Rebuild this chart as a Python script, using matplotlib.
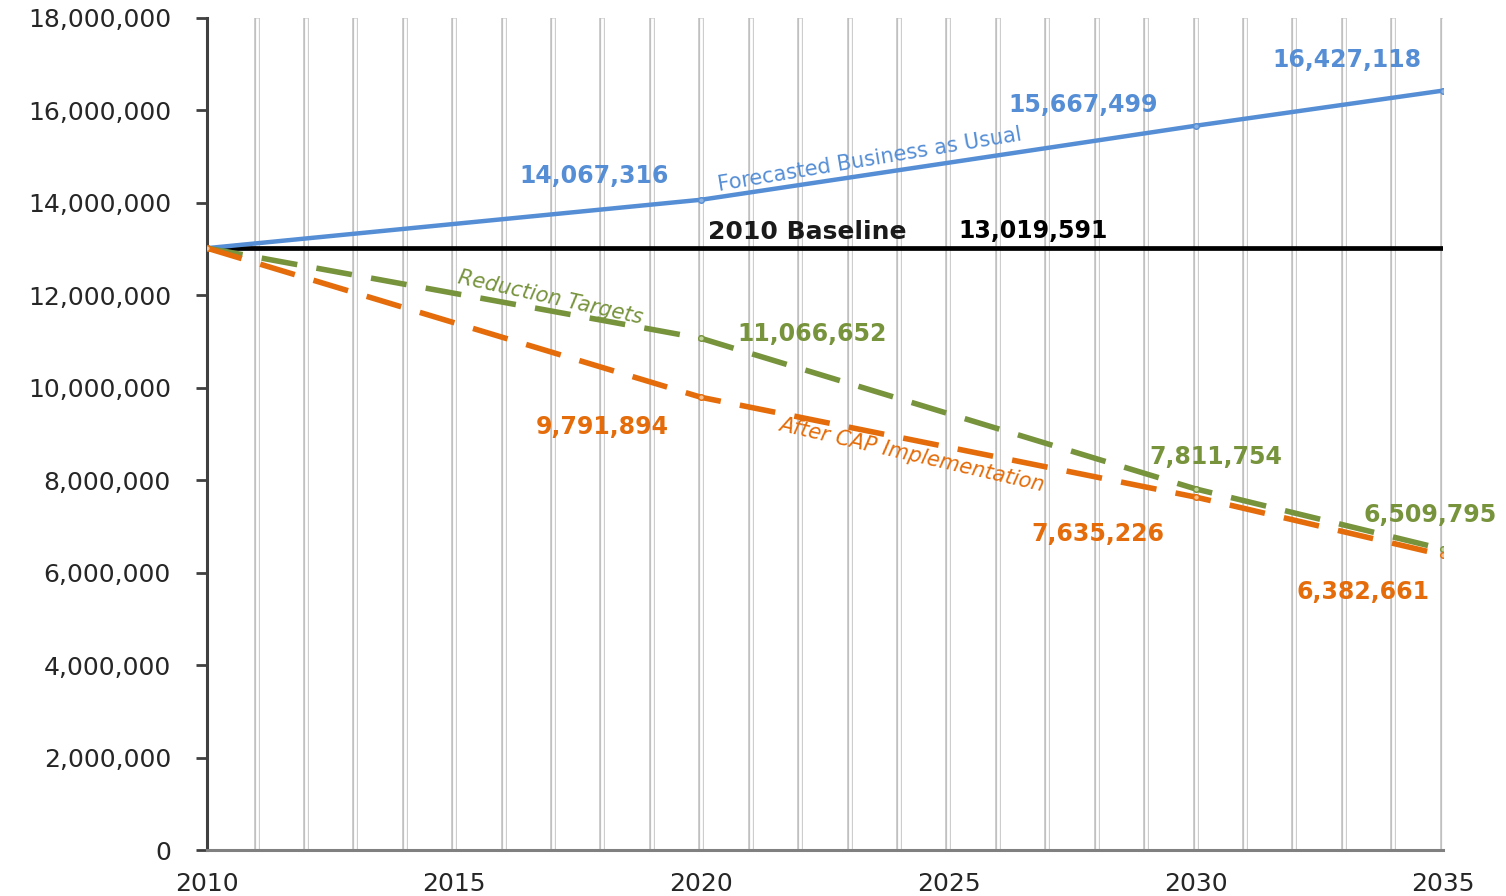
import numpy as np
import matplotlib.pyplot as plt
from matplotlib.ticker import FuncFormatter

# Data
years = [2010, 2020, 2030, 2035]
business_as_usual = [13019591, 14067316, 15667499, 16427118]
reduction_targets = [13019591, 11066652, 7811754, 6509795]
after_cap = [13019591, 9791894, 7635226, 6382661]
baseline_2010 = 13019591

blue = '#558ed5'
green = '#77933c'
orange = '#e46c0a'

fig = plt.figure(figsize=(15.06, 8.96), dpi=100)
ax = fig.add_axes([0.1375, 0.0513, 0.8205, 0.9287])

# year gridlines drawn as double lines
grid_years = np.arange(2011, 2036)
ax.vlines(grid_years, 0, 18e6, color='#c0c0c0', lw=4.0, zorder=0)
ax.vlines(grid_years, 0, 18e6, color='white', lw=2.0, zorder=0)

# 2010 baseline
ax.plot([years[0], years[-1]], [baseline_2010, baseline_2010], color='black', lw=3.4, zorder=2)

ax.plot(years, business_as_usual, color=blue, lw=3.2, marker='o', ms=4,
        mfc='#8db3e2', mec=blue, zorder=3)
ax.plot(years, reduction_targets, color=green, lw=4.0, ls=(0, (6.5, 3.5)), marker='o', ms=4,
        mfc='#c3d69b', mec=green, zorder=3)
ax.plot(years, after_cap, color=orange, lw=4.0, ls=(0, (6.5, 3.5)), marker='o', ms=4,
        mfc='#fac090', mec=orange, zorder=3)

# value labels (offsets in pixels from the data point)
lab = dict(fontsize=17, fontweight='bold', ha='center', va='center',
           textcoords='offset pixels', zorder=5)
bau_off = [(-107, 24), (-112, 21), (-96, 31)]
tgt_off = [(111, 4), (20, 32), (-13, 34)]
cap_off = [(-99, -30), (-98, -37), (-80, -37)]
for i in range(1, 4):
    ax.annotate(f"{business_as_usual[i]:,}", (years[i], business_as_usual[i]),
                xytext=bau_off[i - 1], color=blue, **lab)
    ax.annotate(f"{reduction_targets[i]:,}", (years[i], reduction_targets[i]),
                xytext=tgt_off[i - 1], color=green, **lab)
    ax.annotate(f"{after_cap[i]:,}", (years[i], after_cap[i]),
                xytext=cap_off[i - 1], color=orange, **lab)

lab['fontsize'] = 18
ax.annotate("2010 Baseline", (2020, baseline_2010), xytext=(106, 16), color='#1a1a1a', **lab)
lab['fontsize'] = 17
ax.annotate(f"{baseline_2010:,}", (2020, baseline_2010), xytext=(332, 17), color='black', **lab)

# series names along the lines
ax.text(2023.41, 14.93e6, "Forecasted Business as Usual", color=blue, fontsize=15,
        rotation=9.5, ha='center', va='center', rotation_mode='anchor')
ax.text(2016.94, 11.94e6, "Reduction Targets", color=green, fontsize=15, style='italic',
        rotation=-12.5, ha='center', va='center', rotation_mode='anchor')
ax.text(2024.26, 8.55e6, "After CAP Implementation", color=orange, fontsize=15, style='italic',
        rotation=-13, ha='center', va='center', rotation_mode='anchor')

ax.set_xlim(2010, 2035)
ax.set_ylim(0, 18e6)
ax.set_xticks(np.arange(2010, 2036, 5))
ax.set_yticks(np.arange(0, 18e6 + 1, 2e6))
ax.yaxis.set_major_formatter(FuncFormatter(lambda v, p: f"{int(v):,}"))

for s in ['top', 'right']:
    ax.spines[s].set_visible(False)
ax.spines['left'].set_color('#404040')
ax.spines['left'].set_linewidth(2.2)
ax.spines['bottom'].set_color('#808080')
ax.spines['bottom'].set_linewidth(2.2)
ax.tick_params(axis='y', length=8, width=2, color='#404040', labelsize=18,
               labelcolor='#262626', pad=18)
ax.tick_params(axis='x', length=0, labelsize=18, labelcolor='#262626', pad=16)

fig.savefig('out.png', dpi=100)
